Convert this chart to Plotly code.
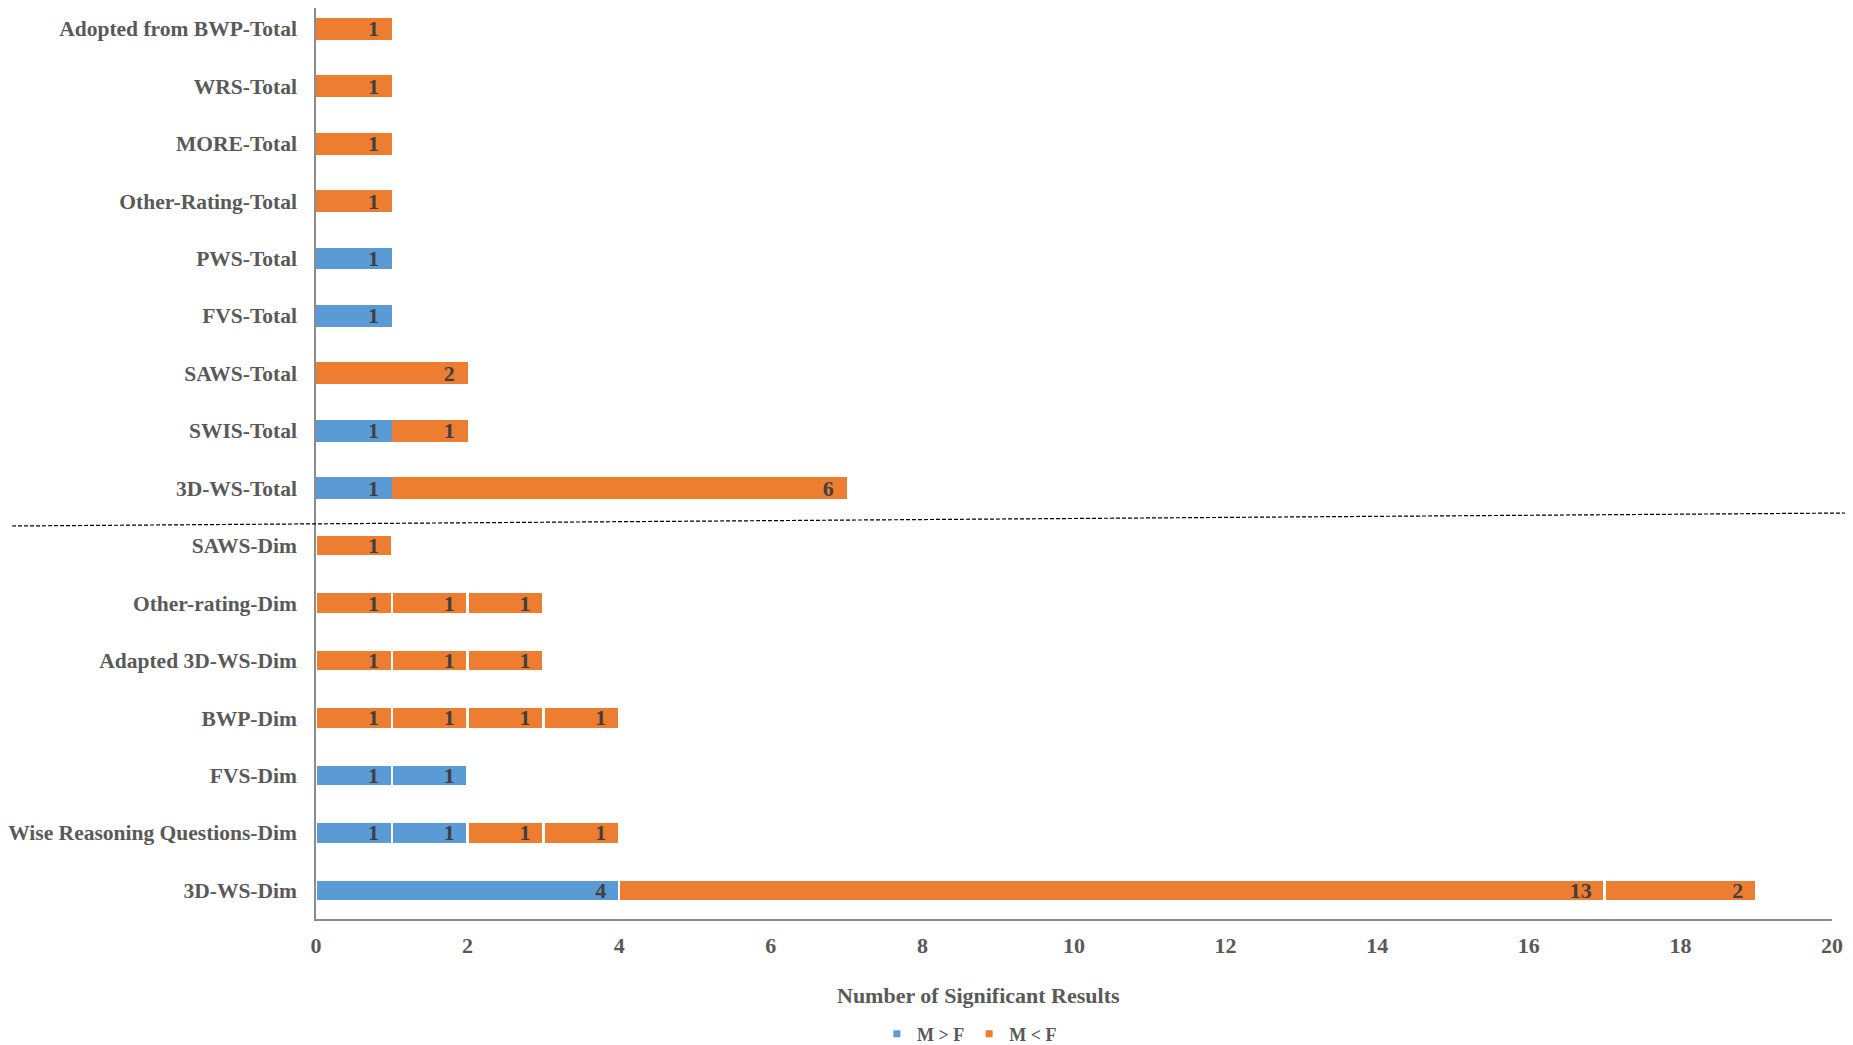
import plotly.graph_objects as go

# categories listed top to bottom, as in the chart
categories = [
    "Adopted from BWP-Total", "WRS-Total", "MORE-Total", "Other-Rating-Total",
    "PWS-Total", "FVS-Total", "SAWS-Total", "SWIS-Total", "3D-WS-Total",
    "SAWS-Dim", "Other-rating-Dim", "Adapted 3D-WS-Dim", "BWP-Dim", "FVS-Dim",
    "Wise Reasoning Questions-Dim", "3D-WS-Dim",
]
# stacked segments per category
m_gt_f = [[], [], [], [], [1], [1], [], [1], [1],
          [], [], [], [], [1, 1], [1, 1], [4]]
m_lt_f = [[1], [1], [1], [1], [], [], [2], [1], [6],
          [1], [1, 1, 1], [1, 1, 1], [1, 1, 1, 1], [], [1, 1], [13, 2]]

BLUE = "#5B9BD5"
ORANGE = "#ED7D31"
FONT = "Liberation Serif"

# Dim rows have white separators between segments, Total rows don't
sep_width = [2.5 if c.endswith("-Dim") else 0 for c in categories]

fig = go.Figure()


def add_group(segments, name, color):
    n = max(len(s) for s in segments)
    for k in range(n):
        xs = [s[k] if len(s) > k else None for s in segments]
        fig.add_trace(go.Bar(
            x=xs, y=categories, orientation="h", name=name,
            legendgroup=name, showlegend=False,
            marker=dict(color=color, line=dict(color="white", width=sep_width)),
            text=[f"{v}\u00a0\u2009" if v is not None else None for v in xs],
            textposition="inside", insidetextanchor="end", textangle=0,
            constraintext="none",
            textfont=dict(family=FONT, size=22, color="#404040", weight="bold"),
            hoverinfo="skip",
        ))
    # legend entry only
    fig.add_trace(go.Scatter(
        x=[None], y=[None], mode="markers", name=name, legendgroup=name,
        marker=dict(symbol="square", size=7, color=color),
    ))


add_group(m_gt_f, "M > F", BLUE)
add_group(m_lt_f, "M < F", ORANGE)

# the page body adds an 8px offset, so the figure is 8px smaller each way
fig.update_layout(
    width=1845, height=1037,
    barmode="stack", bargap=0.62,
    plot_bgcolor="white", paper_bgcolor="white",
    margin=dict(l=308, r=21, t=0, b=126, autoexpand=False),
    font=dict(family=FONT, color="#595959", weight="bold"),
    showlegend=True,
    legend=dict(orientation="h", x=0.431, xanchor="center", y=-0.1262,
                yanchor="middle", font=dict(size=18, family=FONT, color="#595959",
                                            weight="bold"),
                itemwidth=30),
    xaxis=dict(range=[0, 20], dtick=2, tick0=0, showgrid=False, zeroline=False,
               showline=True, linecolor="#8c8c8c", linewidth=1.5,
               tickfont=dict(size=22, family=FONT, color="#595959", weight="bold"),
               ticklabelstandoff=6),
    yaxis=dict(categoryorder="array", categoryarray=categories,
               range=[15.5, -0.3607], showgrid=False, zeroline=False,
               showline=True, linecolor="#8c8c8c", linewidth=1.5,
               tickfont=dict(size=21.5, family=FONT, color="#595959", weight="bold"),
               ticklabelstandoff=13),
    annotations=[dict(text="Number of Significant Results", xref="paper",
                      yref="paper", x=0.437, y=-0.0845, xanchor="center",
                      yanchor="middle", showarrow=False,
                      font=dict(size=22, family=FONT, color="#595959",
                                weight="bold"))],
    shapes=[dict(type="line", xref="paper", yref="paper",
                 x0=-0.2005, y0=0.4314, x1=1.0139, y1=0.4457,
                 line=dict(color="black", width=1.2, dash="4px,2px"))],
)

fig.write_html("out.html")
